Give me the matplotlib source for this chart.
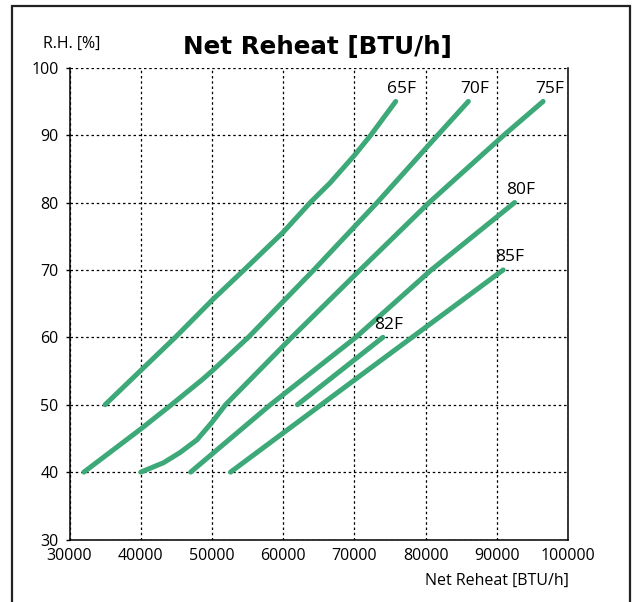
import matplotlib.pyplot as plt
from matplotlib.patches import Rectangle
from matplotlib.ticker import MultipleLocator

# curve data: net reheat [BTU/h] vs R.H. [%]
reheat_65 = [34980, 44840, 50000, 54500, 60000, 63800, 66570, 70000, 72300, 75800]
rh_65 = [50, 60, 65.5, 70, 75.6, 80, 82.9, 87, 90, 95]

reheat_70 = [32000, 40000, 44300, 48600, 50000, 55100, 64300, 73200, 81700, 86000]
rh_70 = [40, 46.4, 50, 53.7, 55, 60, 70, 80, 90, 95]

reheat_75 = [40000, 43200, 45500, 47900, 50000, 51900, 61200, 70800, 80500, 91000, 96500]
rh_75 = [40, 41.4, 42.9, 44.8, 47.4, 50, 60, 70, 80, 90, 95]

reheat_80 = [47000, 58200, 70200, 80800, 92500]
rh_80 = [40, 50, 60, 70, 80]

reheat_82 = [62000, 74000]
rh_82 = [50, 60]

reheat_85 = [52600, 71700, 90900]
rh_85 = [40, 55, 70]

series = [
    ('65F', reheat_65, rh_65),
    ('70F', reheat_70, rh_70),
    ('75F', reheat_75, rh_75),
    ('80F', reheat_80, rh_80),
    ('82F', reheat_82, rh_82),
    ('85F', reheat_85, rh_85),
]

plt.rcParams['font.family'] = ['Open Sans', 'DejaVu Sans']
plt.rcParams['font.size'] = 11.5

fig = plt.figure(figsize=(6.37, 6.02), dpi=100)
ax = fig.add_axes([0.1093, 0.1038, 0.7824, 0.7837])

green = '#3da878'
for name, x, y in series:
    ax.plot(x, y, color=green, lw=3.6, solid_capstyle='round',
            solid_joinstyle='round', zorder=3)
    ax.annotate(name, xy=(x[-1], y[-1]), xytext=(-6, 9), textcoords='offset points',
                ha='left', va='center', fontsize=12.5)

ax.set_xlim(30000, 100000)
ax.set_ylim(30, 100)
ax.xaxis.set_major_locator(MultipleLocator(10000))
ax.yaxis.set_major_locator(MultipleLocator(10))
ax.grid(True, color='black', lw=0.9, linestyle=(0, (2, 2.2)))
ax.set_axisbelow(True)
ax.spines['top'].set_visible(False)
for s in ['left', 'bottom', 'right']:
    ax.spines[s].set_linewidth(1.1)
ax.tick_params(axis='x', length=0, pad=6)
ax.tick_params(axis='y', length=3, width=1, pad=5)

fig.text(0.4985, 0.9098, 'Net Reheat [BTU/h]', ha='center', va='baseline',
         fontsize=17.7, fontweight='heavy', family='DejaVu Sans')
fig.text(0.067, 0.9197, 'R.H. [%]', ha='left', va='baseline', fontsize=11.5)
fig.text(0.8926, 0.028, 'Net Reheat [BTU/h]', ha='right', va='baseline', fontsize=11.5)

# outer frame (bottom edge off the picture)
fig.add_artist(Rectangle((11.5 / 637, -0.1), (630 - 11.5) / 637, 1.1 - 7 / 602 + 0.001,
                         transform=fig.transFigure, fill=False, lw=1.6,
                         edgecolor='#222222', clip_on=False))

fig.savefig('out.png', dpi=100)
